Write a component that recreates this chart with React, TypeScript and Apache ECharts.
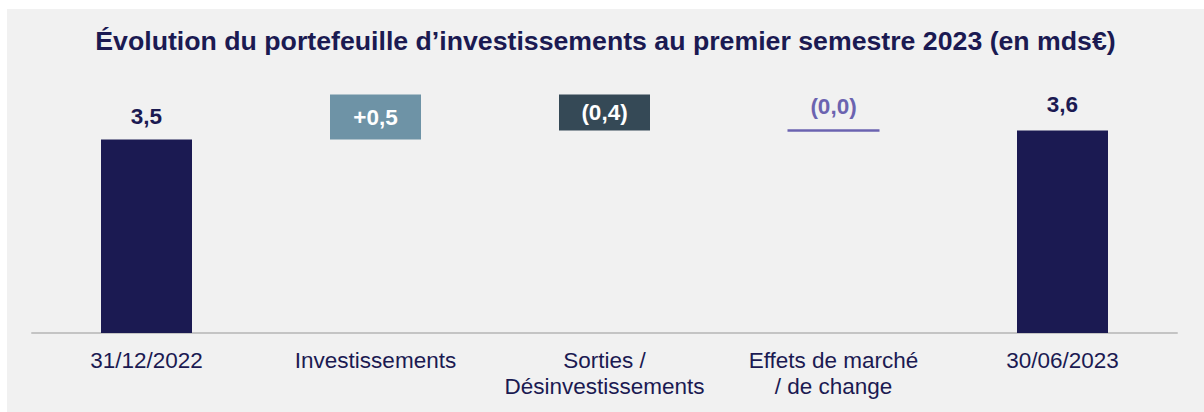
import React, { useEffect, useRef } from "react";
import * as echarts from "echarts";

const TITLE = "Évolution du portefeuille d’investissements au premier semestre 2023 (en mds€)";
const categories = [
  "31/12/2022",
  "Investissements",
  "Sorties /\nDésinvestissements",
  "Effets de marché\n/ de change",
  "30/06/2023",
];
// step values (bn €): totals for first/last, deltas in between
const values = [3.5, 0.5, -0.4, 0.0, 3.6];
const kinds = ["total", "delta", "delta", "delta", "total"];
const valueLabels = ["3,5", "+0,5", "(0,4)", "(0,0)", "3,6"];

const NAVY = "#1b1a52";
const PURPLE = "#6b63b0";
const FONT = "Arial, 'Liberation Sans', sans-serif";

export default function App() {
  const ref = useRef<HTMLDivElement>(null);
  useEffect(() => {
    if (!ref.current) return;
    const chart = echarts.init(ref.current, undefined, { renderer: "svg" });

    // build waterfall stacks from the values
    const base: any[] = [];
    const vis: any[] = [];
    const flat: any[] = [];
    let running = 0;
    values.forEach((v, i) => {
      if (kinds[i] === "total") {
        running = v;
        base.push("-");
        vis.push({
          value: v,
          itemStyle: { color: NAVY },
          label: { show: true, position: "top", distance: i === 4 ? 15 : 12, color: NAVY, formatter: valueLabels[i] },
        });
        flat.push("-");
      } else if (v === 0) {
        base.push("-");
        vis.push("-");
        flat.push({ value: running, label: { formatter: valueLabels[i] } });
      } else {
        const lo = v > 0 ? running : running + v;
        base.push(lo);
        vis.push({
          value: Math.abs(v),
          itemStyle: { color: v > 0 ? "#6e93a6" : "#354956" },
          label: { show: true, position: "inside", color: "#ffffff", formatter: valueLabels[i] },
        });
        flat.push("-");
        running += v;
      }
    });

    chart.setOption({
      animation: false,
      backgroundColor: "#f1f1f1",
      textStyle: { fontFamily: FONT },
      title: {
        text: TITLE,
        left: "center",
        top: 13,
        textStyle: { fontSize: 26.7, fontWeight: "bold", color: NAVY, fontFamily: FONT },
      },
      grid: { left: 25, right: 27, top: 58.5, bottom: 79, containLabel: false },
      xAxis: {
        type: "category",
        data: categories,
        axisLine: { show: true, lineStyle: { color: "#c4c4c4", width: 2 } },
        axisTick: { show: false },
        axisLabel: {
          color: NAVY,
          fontSize: 22.5,
          lineHeight: 26,
          margin: 14,
          interval: 0,
          fontFamily: FONT,
        },
      },
      yAxis: {
        type: "value",
        min: 1.35,
        max: 4.3,
        show: false,
        splitLine: { show: false },
      },
      series: [
        {
          type: "bar",
          stack: "w",
          data: base,
          barWidth: 91,
          itemStyle: { color: "transparent" },
          silent: true,
        },
        {
          type: "bar",
          stack: "w",
          data: vis,
          barWidth: 91,
          label: { fontSize: 22.5, fontWeight: "bold", fontFamily: FONT },
        },
        {
          type: "scatter",
          data: flat,
          symbol: "rect",
          symbolSize: [92, 2.5],
          itemStyle: { color: PURPLE, opacity: 1 },
          label: {
            show: true,
            position: "top",
            distance: 11,
            color: PURPLE,
            opacity: 1,
            fontSize: 22.5,
            fontWeight: "bold",
            fontFamily: FONT,
          },
        },
      ],
    });
    return () => chart.dispose();
  }, []);

  return (
    <div
      ref={ref}
      style={{ position: "fixed", left: 7, top: 9, width: 1197, height: 403 }}
    />
  );
}
